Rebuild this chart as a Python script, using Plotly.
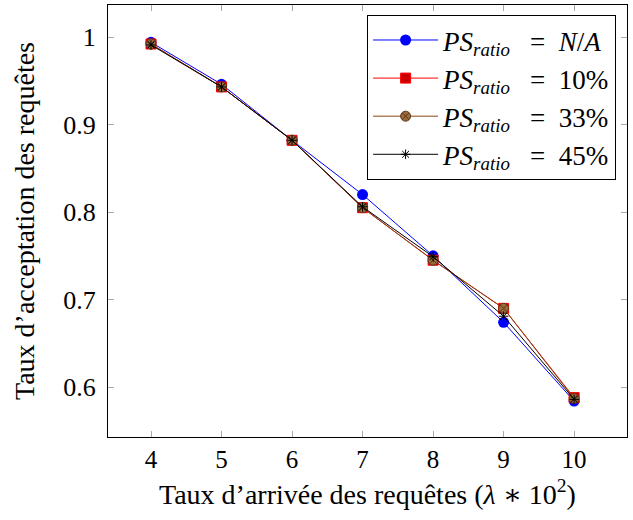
import plotly.graph_objects as go

x_vals = [4, 5, 6, 7, 8, 9, 10]
ps_na = [0.994, 0.946, 0.882, 0.820, 0.750, 0.674, 0.584]
ps_10 = [0.992, 0.943, 0.882, 0.805, 0.745, 0.690, 0.588]
ps_33 = [0.992, 0.943, 0.882, 0.805, 0.745, 0.690, 0.587]
ps_45 = [0.991, 0.943, 0.882, 0.806, 0.749, 0.681, 0.586]
y_ticks = [0.6, 0.7, 0.8, 0.9, 1.0]
y_tick_labels = ["0.6", "0.7", "0.8", "0.9", "1"]
x_title = "Taux d’arrivée des requêtes (<i>λ</i> ∗ 10<sup>2</sup>)"
y_title = "Taux d’acceptation des requêtes"

NB = "\u00a0"

def lab(v):
    return "<i>PS</i><sub><i>ratio</i></sub>" + NB * 3 + "=" + NB * 2 + v

FONT = "'Liberation Serif', 'DejaVu Serif', serif"

fig = go.Figure()
fig.add_trace(go.Scatter(x=x_vals, y=ps_na, mode="lines+markers", name=lab("<i>N</i>/<i>A</i>"),
                         line=dict(color="#0000ff", width=1),
                         marker=dict(symbol="circle", size=11, color="#0000ff", line=dict(width=0))))
fig.add_trace(go.Scatter(x=x_vals, y=ps_10, mode="lines+markers", name=lab("10%"),
                         line=dict(color="#ff0000", width=1),
                         marker=dict(symbol="square", size=10, color="#cc0000", line=dict(color="#ff0000", width=1))))
fig.add_trace(go.Scatter(x=x_vals, y=ps_33, mode="lines+markers", name=lab("33%"),
                         line=dict(color="#8b4513", width=1),
                         marker=dict(symbol="circle-x", size=10, color="#9c6a3a", line=dict(color="#5a3a1a", width=1))))
fig.add_trace(go.Scatter(x=x_vals, y=ps_45, mode="lines+markers", name=lab("45%"),
                         line=dict(color="#000000", width=1),
                         marker=dict(symbol="asterisk-open", size=8, color="#000000", line=dict(color="#000000", width=1))))

fig.update_layout(
    width=633, height=520,
    margin=dict(l=108, r=6, t=5, b=83),
    paper_bgcolor="white", plot_bgcolor="white",
    font=dict(family=FONT, size=26, color="black"),
    showlegend=True,
    legend=dict(x=0.979, y=0.977, xanchor="right", yanchor="top",
                bgcolor="white", bordercolor="black", borderwidth=1,
                font=dict(family=FONT, size=27), tracegroupgap=0,
                itemwidth=65),
    xaxis=dict(range=[3.39, 10.75], tickvals=x_vals, ticks="inside", ticklen=6,
               tickcolor="#aaaaaa", showline=True, linecolor="black", linewidth=1,
               mirror="ticks", showgrid=False, zeroline=False,
               tickfont=dict(family=FONT, size=25), ticklabelstandoff=0),
    yaxis=dict(range=[0.543, 1.0366], tickvals=y_ticks, ticktext=y_tick_labels,
               ticks="inside", ticklen=6, tickcolor="#aaaaaa", showline=True,
               linecolor="black", linewidth=1, mirror="ticks", showgrid=False,
               zeroline=False, tickfont=dict(family=FONT, size=26), ticklabelstandoff=6,
               title=dict(text=y_title, font=dict(family=FONT, size=28), standoff=20)),
    annotations=[dict(text=x_title, xref="paper", yref="paper", x=0.5, y=-0.128,
                      xanchor="center", yanchor="middle", showarrow=False,
                      font=dict(family=FONT, size=28))],
)

fig.write_html("out.html", post_script="document.body.style.margin='0';",
               config={"displayModeBar": False})
